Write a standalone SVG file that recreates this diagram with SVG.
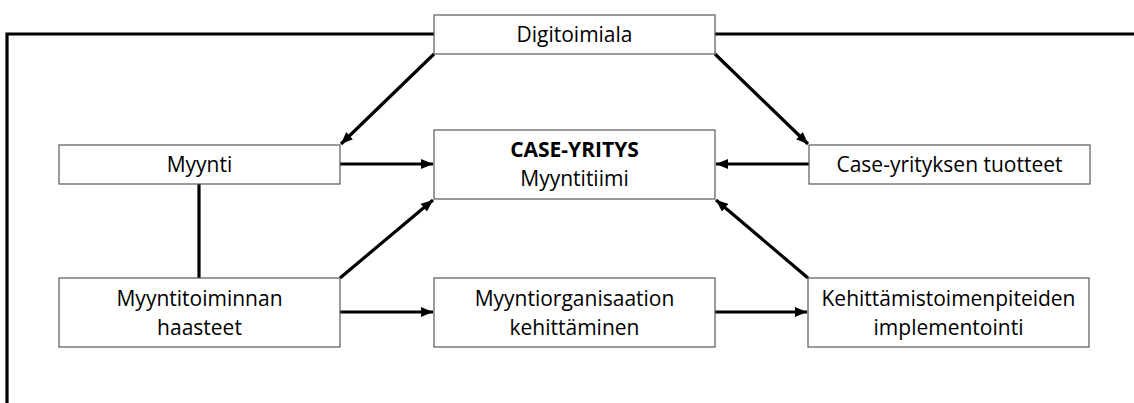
<svg xmlns="http://www.w3.org/2000/svg" width="1134" height="403" viewBox="0 0 1134 403">
<style>
.box{fill:#fff;stroke:#595959;stroke-width:1.2}
.t{font-family:"Open Sans","Liberation Sans",sans-serif;font-size:21px;fill:#000;text-anchor:middle}
.b{font-weight:bold}
.c{stroke:#000;stroke-width:3.2;fill:none}
.a{marker-end:url(#ah)}
</style>
<defs>
<marker id="ah" markerUnits="userSpaceOnUse" viewBox="0 0 12 10" refX="12" refY="5" markerWidth="12" markerHeight="10" orient="auto">
<path d="M0,0 L12,5 L0,10 Z" fill="#000"/>
</marker>
</defs>
<g id="connectors">
<polyline class="c" points="434,34 7,34 7,403"/>
<line class="c" x1="715" y1="34" x2="1134" y2="34"/>
<line class="c a" x1="434" y1="54" x2="341" y2="144"/>
<line class="c a" x1="715" y1="54" x2="808" y2="144"/>
<line class="c a" x1="340" y1="164" x2="433" y2="164"/>
<line class="c a" x1="809" y1="164" x2="716" y2="164"/>
<line class="c" x1="199" y1="184" x2="199" y2="278"/>
<line class="c a" x1="340" y1="278" x2="433" y2="200"/>
<line class="c a" x1="340" y1="312" x2="433" y2="312"/>
<line class="c a" x1="715" y1="312" x2="807" y2="312"/>
<line class="c a" x1="808" y1="278" x2="716" y2="200"/>
</g>
<g id="digitoimiala">
<rect class="box" x="434" y="15" width="281" height="39"/>
<text class="t" x="574.5" y="42">Digitoimiala</text>
</g>
<g id="myynti">
<rect class="box" x="59" y="145" width="281" height="39"/>
<text class="t" x="199.5" y="172">Myynti</text>
</g>
<g id="case-yritys">
<rect class="box" x="434" y="130" width="281" height="69"/>
<text class="t b" x="574.5" y="157">CASE-YRITYS</text>
<text class="t" x="574.5" y="186">Myyntitiimi</text>
</g>
<g id="tuotteet">
<rect class="box" x="809" y="145" width="281" height="39"/>
<text class="t" x="949.5" y="172">Case-yrityksen tuotteet</text>
</g>
<g id="haasteet">
<rect class="box" x="59" y="278" width="281" height="69"/>
<text class="t" x="199.5" y="306">Myyntitoiminnan</text>
<text class="t" x="199.5" y="335">haasteet</text>
</g>
<g id="kehittaminen">
<rect class="box" x="434" y="278" width="281" height="69"/>
<text class="t" x="574.5" y="306">Myyntiorganisaation</text>
<text class="t" x="574.5" y="335">kehittäminen</text>
</g>
<g id="implementointi">
<rect class="box" x="808" y="278" width="281" height="69"/>
<text class="t" x="948.5" y="306">Kehittämistoimenpiteiden</text>
<text class="t" x="948.5" y="335">implementointi</text>
</g>
</svg>
